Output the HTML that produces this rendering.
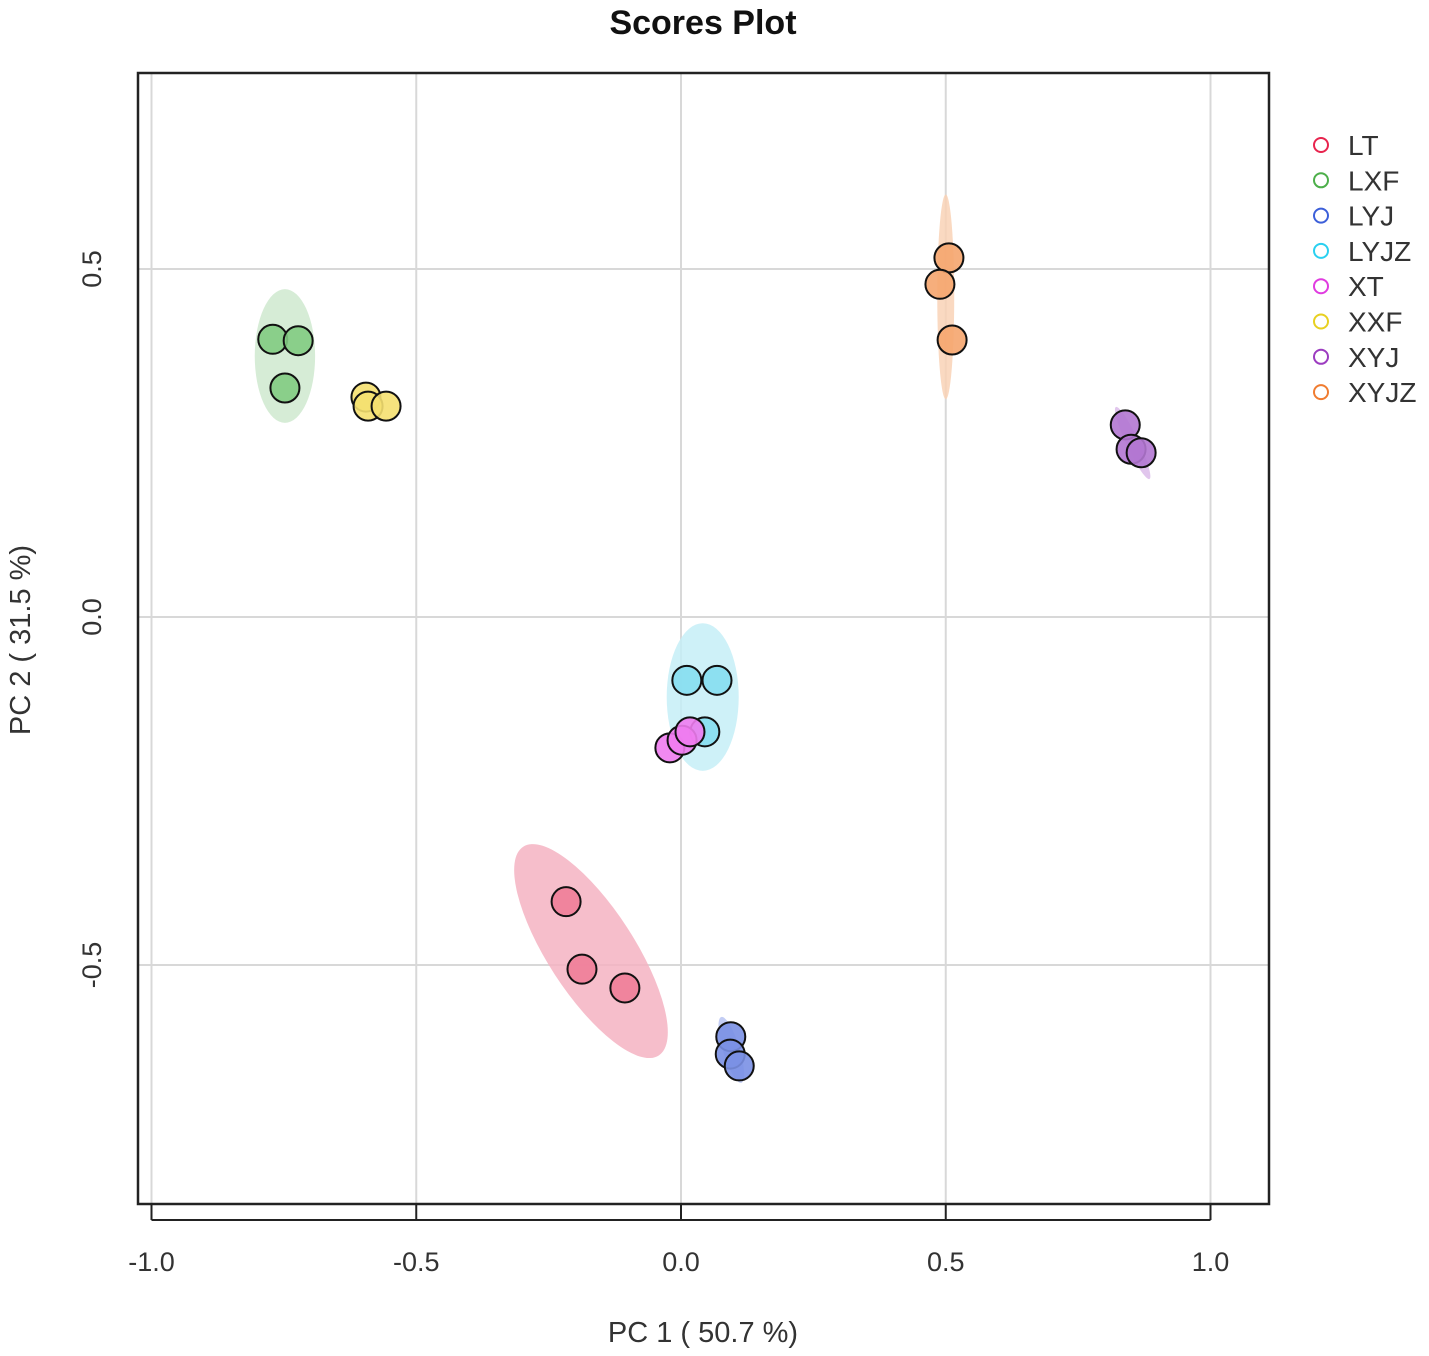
<!DOCTYPE html>
<html><head><meta charset="utf-8"><style>
html,body{margin:0;padding:0;background:#fff;}
svg{display:block;font-family:"Liberation Sans",sans-serif;}
</style></head><body>
<svg id="chart" width="1429" height="1356" viewBox="0 0 1429 1356">
<text x="703" y="34" text-anchor="middle" font-size="34" font-weight="bold" fill="#111">Scores Plot</text>
<g id="grid"></g>
<g id="ellipses"></g>
<g id="points"></g>
<rect x="138" y="73" width="1131" height="1131" fill="none" stroke="#222" stroke-width="2.5"/>
<g id="axes"></g>
<text x="703" y="1342" text-anchor="middle" font-size="29" fill="#333">PC 1 ( 50.7 %)</text>
<text transform="translate(30,640) rotate(-90)" text-anchor="middle" font-size="29" fill="#333">PC 2 ( 31.5 %)</text>
<g id="legend"></g>
</svg>
<script>
const groups = ["LT","LXF","LYJ","LYJZ","XT","XXF","XYJ","XYJZ"];
const pc1 = [
 [-0.217,-0.187,-0.106],
 [-0.771,-0.723,-0.748],
 [0.094,0.093,0.110],
 [0.011,0.068,0.045],
 [-0.021,0.002,0.017],
 [-0.595,-0.591,-0.557],
 [0.839,0.850,0.869],
 [0.506,0.489,0.512]
];
const pc2 = [
 [-0.409,-0.506,-0.533],
 [0.399,0.397,0.329],
 [-0.603,-0.628,-0.645],
 [-0.091,-0.091,-0.165],
 [-0.188,-0.177,-0.165],
 [0.316,0.303,0.303],
 [0.276,0.241,0.236],
 [0.516,0.478,0.398]
];
const xTicks = [-1.0,-0.5,0.0,0.5,1.0];
const xTickLabels = ["-1.0","-0.5","0.0","0.5","1.0"];
const yTicks = [-0.5,0.0,0.5];
const yTickLabels = ["-0.5","0.0","0.5"];
const ellCx = [-0.17,-0.748,0.095,0.041,0.0,-0.58,0.853,0.5];
const ellCy = [-0.48,0.375,-0.622,-0.115,-0.177,0.31,0.25,0.46];
const ellA = [0.235,0.057,0.065,0.068,0.0,0.0,0.075,0.016];
const ellB = [0.062,0.096,0.012,0.106,0.0,0.0,0.009,0.147];
const ellAng = [57,0,73,0,0,0,65,0];
const fillCols = ["#ef7d98","#82cc82","#7a90e4","#86def0","#ef7cef","#f5e070","#b277d2","#f5a56e"];
const ellCols = ["#f4b3c2","#cfe9cf","#b8c4f2","#c6eff7","#f5c0f5","#faf0b8","#dcbcea","#f9d2b6"];
const legCols = ["#e8244e","#4daf4a","#3c5fd9","#2ad0f0","#e03ce0","#e8d020","#9c3cc0","#f07c30"];

const NS="http://www.w3.org/2000/svg";
const X = v => 681 + v*529.5;
const Y = v => 617 - v*696;
function mk(tag, attrs, parent){const e=document.createElementNS(NS,tag);for(const k in attrs)e.setAttribute(k,attrs[k]);parent.appendChild(e);return e;}
const grid=document.getElementById("grid"), axes=document.getElementById("axes");
xTicks.forEach((t,i)=>{
 const g=mk("line",{x1:X(t),x2:X(t),y1:73,y2:1204,stroke:"#d8d8d8","stroke-width":2},grid);
 
 
 const tk=mk("line",{x1:X(t),x2:X(t),y1:1204,y2:1220,stroke:"#222","stroke-width":2},axes);
 
 
 const tx=mk("text",{x:X(t),y:1271,"text-anchor":"middle","font-size":27,fill:"#333"},axes);
 tx.textContent=xTickLabels[i];
 
 
});
mk("line",{x1:X(-1),x2:X(1),y1:1220,y2:1220,stroke:"#222","stroke-width":2},axes);
yTicks.forEach((t,i)=>{
 const g=mk("line",{x1:138,x2:1269,y1:Y(t),y2:Y(t),stroke:"#d8d8d8","stroke-width":2},grid);
 
 
 const tx=mk("text",{transform:`translate(101,${Y(t)}) rotate(-90)`,"text-anchor":"middle","font-size":27,fill:"#333"},axes);
 tx.textContent=yTickLabels[i];
 
 
});
const eg=document.getElementById("ellipses");
groups.forEach((g,i)=>{
 if(ellA[i]<=0) return;
 const e=mk("ellipse",{cx:0,cy:0,rx:ellA[i]*529.5,ry:ellB[i]*696,fill:ellCols[i],"fill-opacity":0.85,transform:`translate(${X(ellCx[i])},${Y(ellCy[i])}) rotate(${ellAng[i]})`},eg);
 
 
});
const pg=document.getElementById("points");
groups.forEach((g,i)=>{
 pc1[i].forEach((v,j)=>{
  const c=mk("circle",{cx:X(v),cy:Y(pc2[i][j]),r:14.5,fill:fillCols[i],"fill-opacity":0.9,stroke:"#111","stroke-width":2},pg);
  
  
 });
});
const lg=document.getElementById("legend");
groups.forEach((g,i)=>{
 const y=145+i*35.3;
 const c=mk("circle",{cx:1321,cy:y,r:7,fill:"none",stroke:legCols[i],"stroke-width":2},lg);
 
 
 const t=mk("text",{x:1348,y:y+10,"font-size":28,fill:"#333"},lg);
 t.textContent=g;
 
 
});
</script>
</body></html>
